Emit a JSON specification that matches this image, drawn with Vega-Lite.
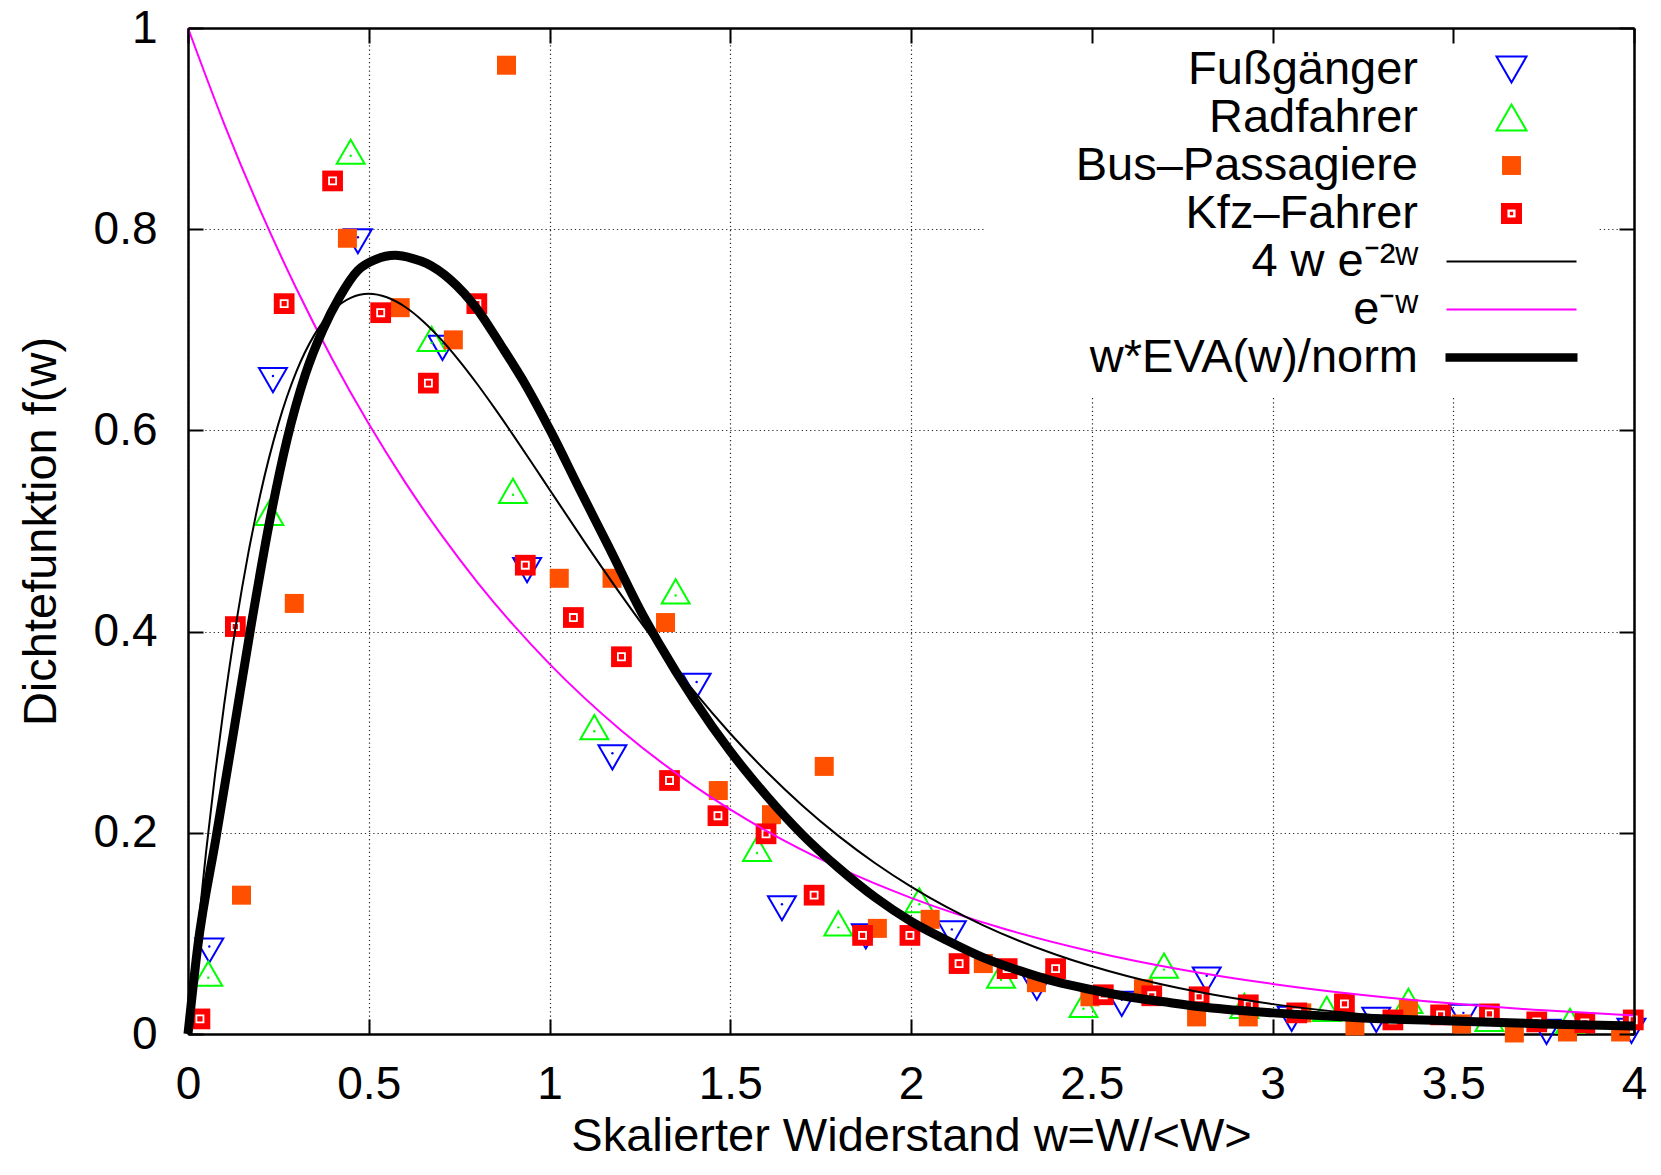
{
  "$schema": "https://vega.github.io/schema/vega-lite/v6.json",
  "width": 1446,
  "height": 1006,
  "autosize": {"type": "none"},
  "padding": {"left": 188, "top": 28, "right": 27, "bottom": 141},
  "background": "#ffffff",
  "config": {
    "font": "Liberation Sans",
    "view": {"stroke": null},
    "legend": {"labelFont": "Liberation Sans"}
  },
  "datasets": {
    "pts": [
      {"w": 0.059, "f": 0.087, "series": "Fußgänger"},
      {"w": 0.235, "f": 0.654, "series": "Fußgänger"},
      {"w": 0.470, "f": 0.792, "series": "Fußgänger"},
      {"w": 0.704, "f": 0.686, "series": "Fußgänger"},
      {"w": 0.938, "f": 0.465, "series": "Fußgänger"},
      {"w": 1.174, "f": 0.279, "series": "Fußgänger"},
      {"w": 1.407, "f": 0.350, "series": "Fußgänger"},
      {"w": 1.643, "f": 0.129, "series": "Fußgänger"},
      {"w": 1.875, "f": 0.101, "series": "Fußgänger"},
      {"w": 2.113, "f": 0.104, "series": "Fußgänger"},
      {"w": 2.348, "f": 0.050, "series": "Fußgänger"},
      {"w": 2.583, "f": 0.034, "series": "Fußgänger"},
      {"w": 2.818, "f": 0.058, "series": "Fußgänger"},
      {"w": 3.053, "f": 0.019, "series": "Fußgänger"},
      {"w": 3.287, "f": 0.018, "series": "Fußgänger"},
      {"w": 3.528, "f": 0.021, "series": "Fußgänger"},
      {"w": 3.758, "f": 0.006, "series": "Fußgänger"},
      {"w": 3.993, "f": 0.007, "series": "Fußgänger"},
      {"w": 0.056, "f": 0.056, "series": "Radfahrer"},
      {"w": 0.225, "f": 0.514, "series": "Radfahrer"},
      {"w": 0.450, "f": 0.873, "series": "Radfahrer"},
      {"w": 0.674, "f": 0.687, "series": "Radfahrer"},
      {"w": 0.899, "f": 0.536, "series": "Radfahrer"},
      {"w": 1.124, "f": 0.301, "series": "Radfahrer"},
      {"w": 1.349, "f": 0.436, "series": "Radfahrer"},
      {"w": 1.574, "f": 0.180, "series": "Radfahrer"},
      {"w": 1.799, "f": 0.106, "series": "Radfahrer"},
      {"w": 2.023, "f": 0.129, "series": "Radfahrer"},
      {"w": 2.249, "f": 0.054, "series": "Radfahrer"},
      {"w": 2.477, "f": 0.025, "series": "Radfahrer"},
      {"w": 2.700, "f": 0.064, "series": "Radfahrer"},
      {"w": 2.922, "f": 0.024, "series": "Radfahrer"},
      {"w": 3.150, "f": 0.021, "series": "Radfahrer"},
      {"w": 3.376, "f": 0.029, "series": "Radfahrer"},
      {"w": 3.600, "f": 0.011, "series": "Radfahrer"},
      {"w": 3.823, "f": 0.009, "series": "Radfahrer"},
      {"w": 0.148, "f": 0.138, "series": "Bus–Passagiere"},
      {"w": 0.294, "f": 0.428, "series": "Bus–Passagiere"},
      {"w": 0.441, "f": 0.791, "series": "Bus–Passagiere"},
      {"w": 0.587, "f": 0.722, "series": "Bus–Passagiere"},
      {"w": 0.734, "f": 0.690, "series": "Bus–Passagiere"},
      {"w": 0.881, "f": 0.963, "series": "Bus–Passagiere"},
      {"w": 1.027, "f": 0.453, "series": "Bus–Passagiere"},
      {"w": 1.173, "f": 0.453, "series": "Bus–Passagiere"},
      {"w": 1.321, "f": 0.409, "series": "Bus–Passagiere"},
      {"w": 1.467, "f": 0.242, "series": "Bus–Passagiere"},
      {"w": 1.614, "f": 0.218, "series": "Bus–Passagiere"},
      {"w": 1.760, "f": 0.266, "series": "Bus–Passagiere"},
      {"w": 1.907, "f": 0.105, "series": "Bus–Passagiere"},
      {"w": 2.053, "f": 0.114, "series": "Bus–Passagiere"},
      {"w": 2.200, "f": 0.070, "series": "Bus–Passagiere"},
      {"w": 2.347, "f": 0.051, "series": "Bus–Passagiere"},
      {"w": 2.495, "f": 0.037, "series": "Bus–Passagiere"},
      {"w": 2.643, "f": 0.045, "series": "Bus–Passagiere"},
      {"w": 2.790, "f": 0.017, "series": "Bus–Passagiere"},
      {"w": 2.933, "f": 0.017, "series": "Bus–Passagiere"},
      {"w": 3.081, "f": 0.021, "series": "Bus–Passagiere"},
      {"w": 3.228, "f": 0.008, "series": "Bus–Passagiere"},
      {"w": 3.376, "f": 0.025, "series": "Bus–Passagiere"},
      {"w": 3.523, "f": 0.010, "series": "Bus–Passagiere"},
      {"w": 3.669, "f": 0.001, "series": "Bus–Passagiere"},
      {"w": 3.816, "f": 0.002, "series": "Bus–Passagiere"},
      {"w": 3.963, "f": 0.002, "series": "Bus–Passagiere"},
      {"w": 0.033, "f": 0.015, "series": "Kfz–Fahrer"},
      {"w": 0.131, "f": 0.405, "series": "Kfz–Fahrer"},
      {"w": 0.266, "f": 0.726, "series": "Kfz–Fahrer"},
      {"w": 0.400, "f": 0.848, "series": "Kfz–Fahrer"},
      {"w": 0.533, "f": 0.717, "series": "Kfz–Fahrer"},
      {"w": 0.665, "f": 0.647, "series": "Kfz–Fahrer"},
      {"w": 0.799, "f": 0.726, "series": "Kfz–Fahrer"},
      {"w": 0.933, "f": 0.466, "series": "Kfz–Fahrer"},
      {"w": 1.066, "f": 0.414, "series": "Kfz–Fahrer"},
      {"w": 1.199, "f": 0.375, "series": "Kfz–Fahrer"},
      {"w": 1.332, "f": 0.252, "series": "Kfz–Fahrer"},
      {"w": 1.466, "f": 0.217, "series": "Kfz–Fahrer"},
      {"w": 1.599, "f": 0.199, "series": "Kfz–Fahrer"},
      {"w": 1.732, "f": 0.138, "series": "Kfz–Fahrer"},
      {"w": 1.866, "f": 0.098, "series": "Kfz–Fahrer"},
      {"w": 1.997, "f": 0.098, "series": "Kfz–Fahrer"},
      {"w": 2.133, "f": 0.070, "series": "Kfz–Fahrer"},
      {"w": 2.266, "f": 0.065, "series": "Kfz–Fahrer"},
      {"w": 2.400, "f": 0.065, "series": "Kfz–Fahrer"},
      {"w": 2.532, "f": 0.039, "series": "Kfz–Fahrer"},
      {"w": 2.666, "f": 0.038, "series": "Kfz–Fahrer"},
      {"w": 2.797, "f": 0.037, "series": "Kfz–Fahrer"},
      {"w": 2.933, "f": 0.029, "series": "Kfz–Fahrer"},
      {"w": 3.067, "f": 0.021, "series": "Kfz–Fahrer"},
      {"w": 3.199, "f": 0.030, "series": "Kfz–Fahrer"},
      {"w": 3.333, "f": 0.014, "series": "Kfz–Fahrer"},
      {"w": 3.465, "f": 0.019, "series": "Kfz–Fahrer"},
      {"w": 3.600, "f": 0.020, "series": "Kfz–Fahrer"},
      {"w": 3.731, "f": 0.012, "series": "Kfz–Fahrer"},
      {"w": 3.864, "f": 0.011, "series": "Kfz–Fahrer"},
      {"w": 3.998, "f": 0.014, "series": "Kfz–Fahrer"}
    ],
    "curves": [
      {"w": 0, "f": 0, "series": "4 w e⁻²ʷ"},
      {"w": 0.025, "f": 0.0951, "series": "4 w e⁻²ʷ"},
      {"w": 0.05, "f": 0.1810, "series": "4 w e⁻²ʷ"},
      {"w": 0.075, "f": 0.2582, "series": "4 w e⁻²ʷ"},
      {"w": 0.1, "f": 0.3275, "series": "4 w e⁻²ʷ"},
      {"w": 0.15, "f": 0.4445, "series": "4 w e⁻²ʷ"},
      {"w": 0.2, "f": 0.5363, "series": "4 w e⁻²ʷ"},
      {"w": 0.25, "f": 0.6065, "series": "4 w e⁻²ʷ"},
      {"w": 0.3, "f": 0.6586, "series": "4 w e⁻²ʷ"},
      {"w": 0.35, "f": 0.6952, "series": "4 w e⁻²ʷ"},
      {"w": 0.4, "f": 0.7189, "series": "4 w e⁻²ʷ"},
      {"w": 0.45, "f": 0.7318, "series": "4 w e⁻²ʷ"},
      {"w": 0.5, "f": 0.7358, "series": "4 w e⁻²ʷ"},
      {"w": 0.55, "f": 0.7323, "series": "4 w e⁻²ʷ"},
      {"w": 0.6, "f": 0.7229, "series": "4 w e⁻²ʷ"},
      {"w": 0.65, "f": 0.7086, "series": "4 w e⁻²ʷ"},
      {"w": 0.7, "f": 0.6905, "series": "4 w e⁻²ʷ"},
      {"w": 0.75, "f": 0.6694, "series": "4 w e⁻²ʷ"},
      {"w": 0.8, "f": 0.6461, "series": "4 w e⁻²ʷ"},
      {"w": 0.85, "f": 0.6211, "series": "4 w e⁻²ʷ"},
      {"w": 0.9, "f": 0.5951, "series": "4 w e⁻²ʷ"},
      {"w": 0.95, "f": 0.5684, "series": "4 w e⁻²ʷ"},
      {"w": 1.0, "f": 0.5413, "series": "4 w e⁻²ʷ"},
      {"w": 1.1, "f": 0.4875, "series": "4 w e⁻²ʷ"},
      {"w": 1.2, "f": 0.4355, "series": "4 w e⁻²ʷ"},
      {"w": 1.3, "f": 0.3862, "series": "4 w e⁻²ʷ"},
      {"w": 1.4, "f": 0.3405, "series": "4 w e⁻²ʷ"},
      {"w": 1.5, "f": 0.2987, "series": "4 w e⁻²ʷ"},
      {"w": 1.6, "f": 0.2609, "series": "4 w e⁻²ʷ"},
      {"w": 1.7, "f": 0.2269, "series": "4 w e⁻²ʷ"},
      {"w": 1.8, "f": 0.1967, "series": "4 w e⁻²ʷ"},
      {"w": 1.9, "f": 0.1700, "series": "4 w e⁻²ʷ"},
      {"w": 2.0, "f": 0.1465, "series": "4 w e⁻²ʷ"},
      {"w": 2.2, "f": 0.1080, "series": "4 w e⁻²ʷ"},
      {"w": 2.4, "f": 0.0790, "series": "4 w e⁻²ʷ"},
      {"w": 2.6, "f": 0.0574, "series": "4 w e⁻²ʷ"},
      {"w": 2.8, "f": 0.0414, "series": "4 w e⁻²ʷ"},
      {"w": 3.0, "f": 0.0297, "series": "4 w e⁻²ʷ"},
      {"w": 3.2, "f": 0.0213, "series": "4 w e⁻²ʷ"},
      {"w": 3.4, "f": 0.0151, "series": "4 w e⁻²ʷ"},
      {"w": 3.6, "f": 0.0108, "series": "4 w e⁻²ʷ"},
      {"w": 3.8, "f": 0.0076, "series": "4 w e⁻²ʷ"},
      {"w": 4.0, "f": 0.0054, "series": "4 w e⁻²ʷ"},
      {"w": 0, "f": 1.0, "series": "e⁻ʷ"},
      {"w": 0.1, "f": 0.9048, "series": "e⁻ʷ"},
      {"w": 0.2, "f": 0.8187, "series": "e⁻ʷ"},
      {"w": 0.3, "f": 0.7408, "series": "e⁻ʷ"},
      {"w": 0.4, "f": 0.6703, "series": "e⁻ʷ"},
      {"w": 0.5, "f": 0.6065, "series": "e⁻ʷ"},
      {"w": 0.6, "f": 0.5488, "series": "e⁻ʷ"},
      {"w": 0.7, "f": 0.4966, "series": "e⁻ʷ"},
      {"w": 0.8, "f": 0.4493, "series": "e⁻ʷ"},
      {"w": 0.9, "f": 0.4066, "series": "e⁻ʷ"},
      {"w": 1.0, "f": 0.3679, "series": "e⁻ʷ"},
      {"w": 1.2, "f": 0.3012, "series": "e⁻ʷ"},
      {"w": 1.4, "f": 0.2466, "series": "e⁻ʷ"},
      {"w": 1.6, "f": 0.2019, "series": "e⁻ʷ"},
      {"w": 1.8, "f": 0.1653, "series": "e⁻ʷ"},
      {"w": 2.0, "f": 0.1353, "series": "e⁻ʷ"},
      {"w": 2.25, "f": 0.1054, "series": "e⁻ʷ"},
      {"w": 2.5, "f": 0.0821, "series": "e⁻ʷ"},
      {"w": 2.75, "f": 0.0639, "series": "e⁻ʷ"},
      {"w": 3.0, "f": 0.0498, "series": "e⁻ʷ"},
      {"w": 3.25, "f": 0.0388, "series": "e⁻ʷ"},
      {"w": 3.5, "f": 0.0302, "series": "e⁻ʷ"},
      {"w": 3.75, "f": 0.0235, "series": "e⁻ʷ"},
      {"w": 4.0, "f": 0.0183, "series": "e⁻ʷ"},
      {"w": 0, "f": 0, "series": "w*EVA(w)/norm"},
      {"w": 0.027, "f": 0.087, "series": "w*EVA(w)/norm"},
      {"w": 0.077, "f": 0.194, "series": "w*EVA(w)/norm"},
      {"w": 0.126, "f": 0.300, "series": "w*EVA(w)/norm"},
      {"w": 0.175, "f": 0.407, "series": "w*EVA(w)/norm"},
      {"w": 0.225, "f": 0.508, "series": "w*EVA(w)/norm"},
      {"w": 0.274, "f": 0.591, "series": "w*EVA(w)/norm"},
      {"w": 0.324, "f": 0.655, "series": "w*EVA(w)/norm"},
      {"w": 0.373, "f": 0.700, "series": "w*EVA(w)/norm"},
      {"w": 0.420, "f": 0.733, "series": "w*EVA(w)/norm"},
      {"w": 0.470, "f": 0.759, "series": "w*EVA(w)/norm"},
      {"w": 0.520, "f": 0.770, "series": "w*EVA(w)/norm"},
      {"w": 0.573, "f": 0.774, "series": "w*EVA(w)/norm"},
      {"w": 0.620, "f": 0.771, "series": "w*EVA(w)/norm"},
      {"w": 0.660, "f": 0.766, "series": "w*EVA(w)/norm"},
      {"w": 0.725, "f": 0.750, "series": "w*EVA(w)/norm"},
      {"w": 0.799, "f": 0.721, "series": "w*EVA(w)/norm"},
      {"w": 0.865, "f": 0.685, "series": "w*EVA(w)/norm"},
      {"w": 0.936, "f": 0.644, "series": "w*EVA(w)/norm"},
      {"w": 1.005, "f": 0.598, "series": "w*EVA(w)/norm"},
      {"w": 1.084, "f": 0.541, "series": "w*EVA(w)/norm"},
      {"w": 1.163, "f": 0.485, "series": "w*EVA(w)/norm"},
      {"w": 1.262, "f": 0.414, "series": "w*EVA(w)/norm"},
      {"w": 1.300, "f": 0.390, "series": "w*EVA(w)/norm"},
      {"w": 1.400, "f": 0.332, "series": "w*EVA(w)/norm"},
      {"w": 1.500, "f": 0.281, "series": "w*EVA(w)/norm"},
      {"w": 1.600, "f": 0.237, "series": "w*EVA(w)/norm"},
      {"w": 1.700, "f": 0.198, "series": "w*EVA(w)/norm"},
      {"w": 1.800, "f": 0.165, "series": "w*EVA(w)/norm"},
      {"w": 1.900, "f": 0.136, "series": "w*EVA(w)/norm"},
      {"w": 2.000, "f": 0.112, "series": "w*EVA(w)/norm"},
      {"w": 2.100, "f": 0.093, "series": "w*EVA(w)/norm"},
      {"w": 2.200, "f": 0.076, "series": "w*EVA(w)/norm"},
      {"w": 2.300, "f": 0.063, "series": "w*EVA(w)/norm"},
      {"w": 2.400, "f": 0.052, "series": "w*EVA(w)/norm"},
      {"w": 2.500, "f": 0.044, "series": "w*EVA(w)/norm"},
      {"w": 2.600, "f": 0.037, "series": "w*EVA(w)/norm"},
      {"w": 2.700, "f": 0.032, "series": "w*EVA(w)/norm"},
      {"w": 2.800, "f": 0.027, "series": "w*EVA(w)/norm"},
      {"w": 3.000, "f": 0.021, "series": "w*EVA(w)/norm"},
      {"w": 3.250, "f": 0.016, "series": "w*EVA(w)/norm"},
      {"w": 3.500, "f": 0.013, "series": "w*EVA(w)/norm"},
      {"w": 3.750, "f": 0.010, "series": "w*EVA(w)/norm"},
      {"w": 4.000, "f": 0.008, "series": "w*EVA(w)/norm"}
    ]
  },
  "resolve": {"axis": {"x": "independent", "y": "independent"}},
  "layer": [
    {
      "data": {"name": "pts"},
      "transform": [{"filter": "datum.series == 'Fußgänger'"}],
      "mark": {"type": "point", "shape": "triangle-down", "filled": false, "size": 780, "strokeWidth": 2, "opacity": 1, "yOffset": 4},
      "encoding": {
        "x": {"field": "w", "type": "quantitative", "scale": {"domain": [0, 4], "nice": false, "zero": false},
          "axis": {"orient": "bottom", "values": [0, 0.5, 1, 1.5, 2, 2.5, 3, 3.5, 4], "format": "~g",
            "labelFontSize": 46, "labelColor": "#000000", "labelFlush": false, "labelOverlap": false, "labelPadding": 43,
            "tickSize": -15, "tickWidth": 2, "tickColor": "#000000",
            "domain": true, "domainColor": "#000000", "domainWidth": 2.5,
            "grid": true, "gridColor": "#000000", "gridDash": [1.2, 3], "gridWidth": 1.2, "gridOpacity": 0.85,
            "title": "Skalierter Widerstand w=W/<W>", "titleFontSize": 47, "titleFontWeight": "normal", "titleColor": "#000000", "titlePadding": 6}},
        "y": {"field": "f", "type": "quantitative", "scale": {"domain": [0, 1], "nice": false, "zero": false},
          "axis": {"orient": "left", "values": [0, 0.2, 0.4, 0.6, 0.8, 1], "format": "~g",
            "labelFontSize": 46, "labelColor": "#000000", "labelFlush": false, "labelOverlap": false, "labelPadding": 46,
            "tickSize": -15, "tickWidth": 2, "tickColor": "#000000",
            "domain": true, "domainColor": "#000000", "domainWidth": 2.5,
            "grid": true, "gridColor": "#000000", "gridDash": [1.2, 3], "gridWidth": 1.2, "gridOpacity": 0.85,
            "title": "Dichtefunktion f(w)", "titleFontSize": 47, "titleFontWeight": "normal", "titleColor": "#000000", "titlePadding": 28}},
        "stroke": {"field": "series", "type": "nominal",
          "scale": {"domain": ["Fußgänger", "Radfahrer", "Bus–Passagiere", "Kfz–Fahrer", "4 w e⁻²ʷ", "e⁻ʷ", "w*EVA(w)/norm"],
                    "range": ["#0000ff", "#00ff00", "transparent", "transparent", "#000000", "#ff00ff", "#000000"]},
          "legend": {"title": null, "orient": "none", "legendX": 797, "legendY": 2, "padding": 16, "fillColor": "#ffffff",
            "symbolSize": 900, "symbolStrokeWidth": 2, "symbolOpacity": 1, "rowPadding": 0, "symbolOffset": 487,
            "labelFontSize": 47, "labelColor": "#000000", "labelAlign": "right", "labelBaseline": "middle", "labelOffset": -117, "labelLimit": 2000}},
        "shape": {"field": "series", "type": "nominal",
          "scale": {"domain": ["Fußgänger", "Radfahrer", "Bus–Passagiere", "Kfz–Fahrer", "4 w e⁻²ʷ", "e⁻ʷ", "w*EVA(w)/norm"],
                    "range": ["triangle-down", "triangle-up", "M-0.63,-0.63H0.63V0.63H-0.63Z", "M-0.7,-0.7H0.7V0.7H-0.7Z M-0.27,-0.27V0.27H0.27V-0.27Z M-0.11,-0.11H0.11V0.11H-0.11Z", "M-4.333,0H4.333", "M-4.333,0H4.333", "M-4.333,-0.22H4.333V0.22H-4.333Z"]}}
      }
    },
    {
      "data": {"name": "pts"},
      "transform": [{"filter": "datum.series == 'Fußgänger'"}],
      "mark": {"type": "point", "shape": "circle", "filled": true, "size": 6, "color": "#0000ff", "opacity": 1},
      "encoding": {
        "x": {"field": "w", "type": "quantitative", "axis": null},
        "y": {"field": "f", "type": "quantitative", "axis": null}
      }
    },
    {
      "data": {"name": "pts"},
      "transform": [{"filter": "datum.series == 'Radfahrer'"}],
      "mark": {"type": "point", "shape": "triangle-up", "filled": false, "size": 780, "strokeWidth": 2, "opacity": 1, "yOffset": -4},
      "encoding": {
        "x": {"field": "w", "type": "quantitative", "axis": null},
        "y": {"field": "f", "type": "quantitative", "axis": null},
        "stroke": {"field": "series", "type": "nominal"}
      }
    },
    {
      "data": {"name": "pts"},
      "transform": [{"filter": "datum.series == 'Radfahrer'"}],
      "mark": {"type": "point", "shape": "circle", "filled": true, "size": 6, "color": "#00ff00", "opacity": 1},
      "encoding": {
        "x": {"field": "w", "type": "quantitative", "axis": null},
        "y": {"field": "f", "type": "quantitative", "axis": null}
      }
    },
    {
      "data": {"name": "pts"},
      "transform": [{"filter": "datum.series == 'Bus–Passagiere'"}],
      "mark": {"type": "point", "shape": "square", "filled": true, "size": 361, "strokeWidth": 0, "opacity": 1},
      "encoding": {
        "x": {"field": "w", "type": "quantitative", "axis": null},
        "y": {"field": "f", "type": "quantitative", "axis": null},
        "fill": {"field": "series", "type": "nominal",
          "scale": {"domain": ["Fußgänger", "Radfahrer", "Bus–Passagiere", "Kfz–Fahrer", "4 w e⁻²ʷ", "e⁻ʷ", "w*EVA(w)/norm"],
                    "range": ["transparent", "transparent", "#ff5000", "#ff0000", "transparent", "transparent", "#000000"]}}
      }
    },
    {
      "data": {"name": "pts"},
      "transform": [{"filter": "datum.series == 'Kfz–Fahrer'"}],
      "mark": {"type": "point", "shape": "square", "filled": true, "size": 430, "strokeWidth": 0, "opacity": 1},
      "encoding": {
        "x": {"field": "w", "type": "quantitative", "axis": null},
        "y": {"field": "f", "type": "quantitative", "axis": null},
        "fill": {"field": "series", "type": "nominal"}
      }
    },
    {
      "data": {"name": "pts"},
      "transform": [{"filter": "datum.series == 'Kfz–Fahrer'"}],
      "mark": {"type": "point", "shape": "square", "filled": false, "size": 50, "strokeWidth": 1.8, "color": "#ffffff", "opacity": 1},
      "encoding": {
        "x": {"field": "w", "type": "quantitative", "axis": null},
        "y": {"field": "f", "type": "quantitative", "axis": null}
      }
    },
    {
      "data": {"name": "curves"},
      "transform": [{"filter": "datum.series == 'e⁻ʷ'"}],
      "mark": {"type": "line", "strokeWidth": 2, "interpolate": "monotone"},
      "encoding": {
        "x": {"field": "w", "type": "quantitative", "axis": null},
        "y": {"field": "f", "type": "quantitative", "axis": null},
        "stroke": {"field": "series", "type": "nominal"}
      }
    },
    {
      "data": {"name": "curves"},
      "transform": [{"filter": "datum.series == '4 w e⁻²ʷ'"}],
      "mark": {"type": "line", "strokeWidth": 2, "interpolate": "monotone"},
      "encoding": {
        "x": {"field": "w", "type": "quantitative", "axis": null},
        "y": {"field": "f", "type": "quantitative", "axis": null},
        "stroke": {"field": "series", "type": "nominal"}
      }
    },
    {
      "data": {"name": "curves"},
      "transform": [{"filter": "datum.series == 'w*EVA(w)/norm'"}],
      "mark": {"type": "line", "strokeWidth": 9, "interpolate": "monotone", "strokeJoin": "round"},
      "encoding": {
        "x": {"field": "w", "type": "quantitative",
          "axis": {"orient": "top", "values": [0, 0.5, 1, 1.5, 2, 2.5, 3, 3.5, 4], "labels": false, "tickSize": -15, "tickWidth": 2, "tickColor": "#000000",
            "domain": true, "domainColor": "#000000", "domainWidth": 2.5, "grid": false, "title": null, "zindex": 1}},
        "y": {"field": "f", "type": "quantitative",
          "axis": {"orient": "right", "values": [0, 0.2, 0.4, 0.6, 0.8, 1], "labels": false, "tickSize": -15, "tickWidth": 2, "tickColor": "#000000",
            "domain": true, "domainColor": "#000000", "domainWidth": 2.5, "grid": false, "title": null, "zindex": 1}},
        "stroke": {"field": "series", "type": "nominal"}
      }
    }
  ]
}
